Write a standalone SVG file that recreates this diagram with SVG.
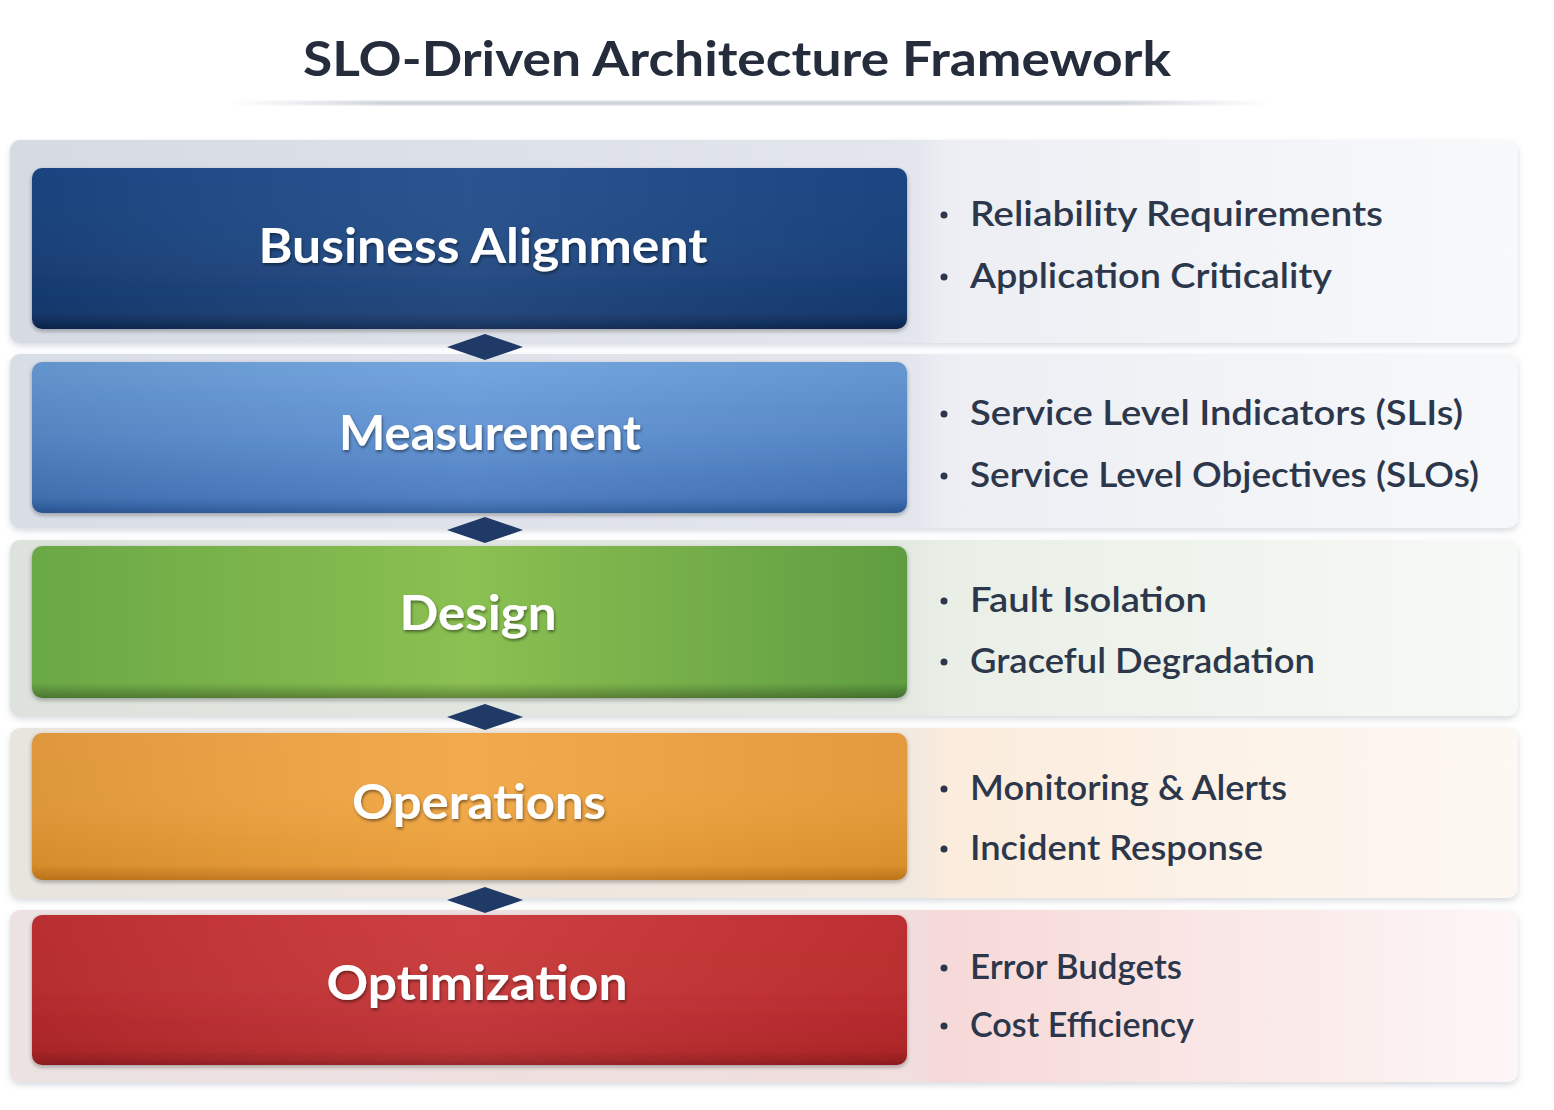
<svg xmlns="http://www.w3.org/2000/svg" width="1554" height="1110" viewBox="0 0 1554 1110">
<style>
.title{font-family:"Lato","Liberation Sans",sans-serif;font-weight:700;font-size:48px;fill:#252d3d}
.lbl{font-family:"Lato","Liberation Sans",sans-serif;font-weight:700;font-size:48px;fill:#ffffff;text-anchor:middle}
.bul{font-family:"Lato","Open Sans","Liberation Sans",sans-serif;font-weight:600;font-size:35px;fill:#2c374b}
.dot{fill:#2c374b}
.dia{fill:#1f3a66}
</style>
<defs>
<filter id="tsh" x="-10%" y="-30%" width="120%" height="160%">
<feDropShadow dx="1" dy="2" stdDeviation="1.5" flood-color="#000" flood-opacity="0.45"/>
</filter>
<filter id="psh" x="-5%" y="-10%" width="110%" height="130%">
<feDropShadow dx="0" dy="3" stdDeviation="3" flood-color="#8a93a3" flood-opacity="0.35"/>
</filter>
<filter id="bsh" x="-5%" y="-10%" width="110%" height="130%">
<feDropShadow dx="0" dy="2" stdDeviation="2" flood-color="#1a1a1a" flood-opacity="0.35"/>
</filter>
<filter id="blur2"><feGaussianBlur stdDeviation="1.5"/></filter>
<linearGradient id="tline" x1="0" y1="0" x2="1" y2="0">
<stop offset="0" stop-color="#c9cdd5" stop-opacity="0"/>
<stop offset="0.15" stop-color="#c3c8d1"/>
<stop offset="0.85" stop-color="#c3c8d1"/>
<stop offset="1" stop-color="#c9cdd5" stop-opacity="0"/>
</linearGradient>
<linearGradient id="p1" x1="0" y1="0" x2="1" y2="0">
<stop offset="0" stop-color="#d6dae3"/>
<stop offset="0.6" stop-color="#e3e6ed"/>
<stop offset="0.62" stop-color="#eceef3"/>
<stop offset="1" stop-color="#f8f9fb"/>
</linearGradient>
<linearGradient id="p2" x1="0" y1="0" x2="1" y2="0">
<stop offset="0" stop-color="#d9dde6"/>
<stop offset="0.6" stop-color="#e3e6ed"/>
<stop offset="0.62" stop-color="#eceef3"/>
<stop offset="1" stop-color="#f7f8fa"/>
</linearGradient>
<linearGradient id="p3" x1="0" y1="0" x2="1" y2="0">
<stop offset="0" stop-color="#dde2dc"/>
<stop offset="0.6" stop-color="#e4e9e2"/>
<stop offset="0.62" stop-color="#e9efe6"/>
<stop offset="1" stop-color="#f7f9f6"/>
</linearGradient>
<linearGradient id="p4" x1="0" y1="0" x2="1" y2="0">
<stop offset="0" stop-color="#e8e4de"/>
<stop offset="0.6" stop-color="#f2e9df"/>
<stop offset="0.62" stop-color="#fbecdc"/>
<stop offset="1" stop-color="#fdf8f3"/>
</linearGradient>
<linearGradient id="p5" x1="0" y1="0" x2="1" y2="0">
<stop offset="0" stop-color="#ece2e2"/>
<stop offset="0.6" stop-color="#f1dede"/>
<stop offset="0.62" stop-color="#f6d9d8"/>
<stop offset="1" stop-color="#fdf6f6"/>
</linearGradient>
<linearGradient id="g1" x1="0" y1="0" x2="0" y2="1">
<stop offset="0" stop-color="#1d4a8a"/>
<stop offset="0.5" stop-color="#1c4683"/>
<stop offset="0.9" stop-color="#173c73"/>
<stop offset="0.96" stop-color="#10305e"/>
<stop offset="1" stop-color="#0c2650"/>
</linearGradient>
<linearGradient id="g2" x1="0" y1="0" x2="0" y2="1">
<stop offset="0" stop-color="#6ca1dd"/>
<stop offset="0.5" stop-color="#5a8ed0"/>
<stop offset="0.9" stop-color="#4677bd"/>
<stop offset="0.96" stop-color="#3566aa"/>
<stop offset="1" stop-color="#2c5a9a"/>
</linearGradient>
<linearGradient id="g3" x1="0" y1="0" x2="1" y2="0">
<stop offset="0" stop-color="#6aa845"/>
<stop offset="0.5" stop-color="#8bc052"/>
<stop offset="1" stop-color="#5f9d41"/>
</linearGradient>
<linearGradient id="g4" x1="0" y1="0" x2="0" y2="1">
<stop offset="0" stop-color="#f1a443"/>
<stop offset="0.5" stop-color="#f0a43e"/>
<stop offset="0.9" stop-color="#e7982f"/>
<stop offset="1" stop-color="#c67a1c"/>
</linearGradient>
<linearGradient id="g5" x1="0" y1="0" x2="0" y2="1">
<stop offset="0" stop-color="#c93335"/>
<stop offset="0.5" stop-color="#c53032"/>
<stop offset="0.9" stop-color="#b8282b"/>
<stop offset="1" stop-color="#951d20"/>
</linearGradient>
<linearGradient id="shade" x1="0" y1="0" x2="0" y2="1">
<stop offset="0" stop-color="#000" stop-opacity="0"/>
<stop offset="0.9" stop-color="#000" stop-opacity="0"/>
<stop offset="0.96" stop-color="#000" stop-opacity="0.18"/>
<stop offset="1" stop-color="#000" stop-opacity="0.3"/>
</linearGradient>
<linearGradient id="sideshade" x1="0" y1="0" x2="1" y2="0">
<stop offset="0" stop-color="#000" stop-opacity="0.08"/>
<stop offset="0.5" stop-color="#fff" stop-opacity="0.06"/>
<stop offset="1" stop-color="#000" stop-opacity="0.06"/>
</linearGradient>
</defs>

<rect width="1554" height="1110" fill="#ffffff"/>

<g id="title">
<text class="title" x="737" y="76" text-anchor="middle" textLength="868" lengthAdjust="spacingAndGlyphs">SLO-Driven Architecture Framework</text>
<rect x="230" y="101" width="1040" height="4" fill="url(#tline)" filter="url(#blur2)"/>
</g>

<g id="panels">
<rect x="10" y="140" width="1508" height="203" rx="10" fill="url(#p1)" filter="url(#psh)"/>
<rect x="10" y="354" width="1508" height="174" rx="10" fill="url(#p2)" filter="url(#psh)"/>
<rect x="10" y="540" width="1508" height="176" rx="10" fill="url(#p3)" filter="url(#psh)"/>
<rect x="10" y="728" width="1508" height="170" rx="10" fill="url(#p4)" filter="url(#psh)"/>
<rect x="10" y="910" width="1508" height="172" rx="10" fill="url(#p5)" filter="url(#psh)"/>
</g>

<g id="connectors">
<polygon class="dia" points="447,347 485,334 523,347 485,360"/>
<polygon class="dia" points="447,530 485,517 523,530 485,543"/>
<polygon class="dia" points="447,717 485,704 523,717 485,730"/>
<polygon class="dia" points="447,900 485,887 523,900 485,913"/>
</g>

<g id="business-alignment">
<rect x="32" y="168" width="875" height="161" rx="10" fill="url(#g1)" filter="url(#bsh)"/>
<rect x="32" y="168" width="875" height="161" rx="10" fill="url(#sideshade)"/>
<text class="lbl" x="483" y="263" textLength="449" lengthAdjust="spacingAndGlyphs" filter="url(#tsh)">Business Alignment</text>
<circle class="dot" cx="944" cy="215" r="3.5"/>
<text class="bul" x="970" y="226" textLength="413" lengthAdjust="spacingAndGlyphs">Reliability Requirements</text>
<circle class="dot" cx="944" cy="277" r="3.5"/>
<text class="bul" x="970" y="288" textLength="362" lengthAdjust="spacingAndGlyphs">Application Criticality</text>
</g>

<g id="measurement">
<rect x="32" y="362" width="875" height="151" rx="10" fill="url(#g2)" filter="url(#bsh)"/>
<rect x="32" y="362" width="875" height="151" rx="10" fill="url(#sideshade)"/>
<text class="lbl" x="490" y="450" textLength="302" lengthAdjust="spacingAndGlyphs" filter="url(#tsh)">Measurement</text>
<circle class="dot" cx="944" cy="414" r="3.5"/>
<text class="bul" x="970" y="425" textLength="493" lengthAdjust="spacingAndGlyphs">Service Level Indicators (SLIs)</text>
<circle class="dot" cx="944" cy="476" r="3.5"/>
<text class="bul" x="970" y="487" textLength="509" lengthAdjust="spacingAndGlyphs">Service Level Objectives (SLOs)</text>
</g>

<g id="design">
<rect x="32" y="546" width="875" height="152" rx="10" fill="url(#g3)" filter="url(#bsh)"/>
<rect x="32" y="546" width="875" height="152" rx="10" fill="url(#shade)"/>
<text class="lbl" x="478" y="630" textLength="157" lengthAdjust="spacingAndGlyphs" filter="url(#tsh)">Design</text>
<circle class="dot" cx="944" cy="601" r="3.5"/>
<text class="bul" x="970" y="612" textLength="237" lengthAdjust="spacingAndGlyphs">Fault Isolation</text>
<circle class="dot" cx="944" cy="662" r="3.5"/>
<text class="bul" x="970" y="673" textLength="345" lengthAdjust="spacingAndGlyphs">Graceful Degradation</text>
</g>

<g id="operations">
<rect x="32" y="733" width="875" height="147" rx="10" fill="url(#g4)" filter="url(#bsh)"/>
<rect x="32" y="733" width="875" height="147" rx="10" fill="url(#sideshade)"/>
<text class="lbl" x="479" y="819" textLength="254" lengthAdjust="spacingAndGlyphs" filter="url(#tsh)">Operations</text>
<circle class="dot" cx="944" cy="789" r="3.5"/>
<text class="bul" x="970" y="800" textLength="317" lengthAdjust="spacingAndGlyphs">Monitoring &amp; Alerts</text>
<circle class="dot" cx="944" cy="849" r="3.5"/>
<text class="bul" x="970" y="860" textLength="293" lengthAdjust="spacingAndGlyphs">Incident Response</text>
</g>

<g id="optimization">
<rect x="32" y="915" width="875" height="150" rx="10" fill="url(#g5)" filter="url(#bsh)"/>
<rect x="32" y="915" width="875" height="150" rx="10" fill="url(#sideshade)"/>
<text class="lbl" x="477" y="1000" textLength="301" lengthAdjust="spacingAndGlyphs" filter="url(#tsh)">Optimization</text>
<circle class="dot" cx="944" cy="968" r="3.5"/>
<text class="bul" x="970" y="979" textLength="212" lengthAdjust="spacingAndGlyphs">Error Budgets</text>
<circle class="dot" cx="944" cy="1026" r="3.5"/>
<text class="bul" x="970" y="1037" textLength="224" lengthAdjust="spacingAndGlyphs">Cost Efficiency</text>
</g>
</svg>
